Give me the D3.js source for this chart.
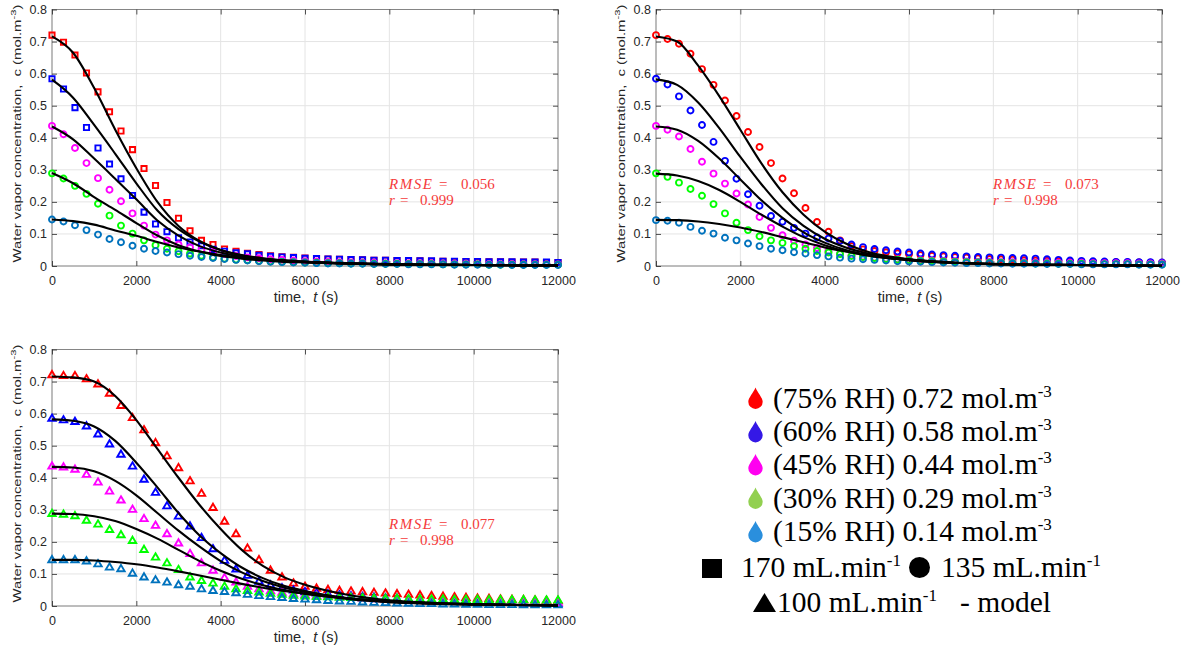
<!DOCTYPE html>
<html>
<head>
<meta charset="utf-8">
<script src="https://cdn.jsdelivr.net/npm/d3@7"></script>
<style>
  html, body { margin: 0; padding: 0; background: #fff; }
  svg { display: block; }
  .tick text { font-family: "Liberation Sans", Arial, sans-serif; font-size: 12.5px; fill: #262626; }
</style>
</head>
<body>
<svg id="chart" width="1186" height="653"></svg>
<script>
// Sampling times of the measured points (s)
const sampleTimes = [0,273,545,818,1091,1364,1636,1909,2182,2455,2727,3000,3273,3545,3818,4091,4364,4636,4909,5182,5455,5727,6000,6273,6545,6818,7091,7364,7636,7909,8182,8455,8727,9000,9273,9545,9818,10091,10364,10636,10909,11182,11455,11727,12000];
// Times at which the model curves are tabulated (s)
const modelTimes = [0,500,1000,1500,2000,2500,3000,3500,4000,4500,5000,5500,6000,7000,8000,9000,10000,11000,12000];

// Inlet humidity levels
const rhLabels = ["(75% RH) 0.72 mol.m", "(60% RH) 0.58 mol.m", "(45% RH) 0.44 mol.m", "(30% RH) 0.29 mol.m", "(15% RH) 0.14 mol.m"];
const seriesColors = ["#ff0000", "#0000ff", "#ff00ff", "#00ff00", "#0072bd"];
const dropColors = ["#ff0000", "#3418e6", "#ff00f0", "#92d050", "#2a8fdd"];

// Flow rate 170 mL/min
const f170_75 = [0.720,0.698,0.658,0.602,0.543,0.481,0.421,0.363,0.304,0.251,0.198,0.149,0.110,0.080,0.067,0.053,0.046,0.040,0.036,0.032,0.029,0.027,0.025,0.023,0.022,0.021,0.020,0.019,0.018,0.018,0.017,0.016,0.016,0.015,0.015,0.014,0.014,0.013,0.013,0.013,0.012,0.012,0.012,0.011,0.011];
const f170_60 = [0.584,0.552,0.494,0.432,0.368,0.318,0.272,0.220,0.168,0.131,0.107,0.088,0.075,0.063,0.052,0.046,0.041,0.038,0.033,0.030,0.028,0.026,0.024,0.023,0.022,0.021,0.020,0.019,0.018,0.018,0.017,0.017,0.016,0.016,0.015,0.015,0.014,0.014,0.013,0.013,0.013,0.012,0.012,0.012,0.011];
const f170_45 = [0.437,0.411,0.368,0.321,0.274,0.238,0.202,0.164,0.126,0.098,0.080,0.067,0.058,0.051,0.044,0.037,0.031,0.027,0.024,0.021,0.019,0.017,0.015,0.014,0.013,0.012,0.011,0.010,0.010,0.009,0.009,0.008,0.008,0.008,0.007,0.007,0.007,0.006,0.006,0.006,0.006,0.005,0.005,0.005,0.005];
const f170_30 = [0.289,0.273,0.250,0.225,0.194,0.157,0.126,0.101,0.080,0.065,0.054,0.046,0.039,0.032,0.027,0.023,0.020,0.018,0.016,0.014,0.013,0.012,0.011,0.010,0.009,0.009,0.008,0.008,0.007,0.007,0.007,0.006,0.006,0.006,0.005,0.005,0.005,0.005,0.004,0.004,0.004,0.004,0.004,0.004,0.004];
const f170_15 = [0.145,0.139,0.127,0.112,0.098,0.084,0.074,0.063,0.054,0.047,0.042,0.037,0.032,0.028,0.025,0.022,0.019,0.017,0.015,0.013,0.012,0.011,0.010,0.009,0.008,0.008,0.007,0.007,0.006,0.006,0.006,0.005,0.005,0.005,0.005,0.004,0.004,0.004,0.004,0.004,0.003,0.003,0.003,0.003,0.003];

// Flow rate 135 mL/min
const f135_75 = [0.720,0.708,0.693,0.662,0.614,0.565,0.516,0.468,0.418,0.371,0.321,0.273,0.227,0.181,0.137,0.107,0.080,0.062,0.052,0.047,0.043,0.040,0.037,0.034,0.032,0.030,0.028,0.026,0.024,0.022,0.021,0.020,0.018,0.017,0.016,0.015,0.014,0.013,0.013,0.012,0.012,0.011,0.011,0.010,0.010];
const f135_60 = [0.584,0.566,0.529,0.485,0.440,0.387,0.328,0.272,0.224,0.188,0.156,0.138,0.119,0.101,0.089,0.086,0.078,0.067,0.059,0.053,0.049,0.045,0.042,0.039,0.036,0.034,0.032,0.030,0.028,0.027,0.026,0.025,0.024,0.023,0.021,0.019,0.017,0.016,0.015,0.014,0.013,0.013,0.012,0.012,0.011];
const f135_45 = [0.437,0.425,0.404,0.365,0.325,0.288,0.257,0.226,0.192,0.153,0.119,0.096,0.079,0.067,0.056,0.047,0.039,0.033,0.029,0.026,0.023,0.021,0.019,0.018,0.017,0.016,0.015,0.014,0.013,0.013,0.012,0.012,0.011,0.011,0.011,0.010,0.010,0.010,0.009,0.009,0.009,0.009,0.008,0.008,0.008];
const f135_30 = [0.289,0.278,0.260,0.240,0.219,0.193,0.164,0.135,0.112,0.093,0.080,0.072,0.062,0.054,0.047,0.042,0.037,0.031,0.028,0.025,0.022,0.020,0.018,0.016,0.015,0.014,0.013,0.012,0.011,0.010,0.010,0.009,0.009,0.008,0.008,0.007,0.007,0.007,0.006,0.006,0.006,0.006,0.005,0.005,0.005];
const f135_15 = [0.143,0.141,0.135,0.122,0.110,0.101,0.088,0.080,0.070,0.062,0.054,0.049,0.043,0.039,0.034,0.030,0.026,0.023,0.021,0.019,0.017,0.015,0.014,0.013,0.012,0.011,0.010,0.009,0.009,0.008,0.008,0.007,0.007,0.007,0.006,0.006,0.006,0.005,0.005,0.005,0.005,0.005,0.004,0.004,0.004];

// Flow rate 100 mL/min
const f100_75 = [0.722,0.719,0.719,0.709,0.693,0.664,0.626,0.588,0.550,0.510,0.469,0.432,0.391,0.352,0.308,0.265,0.226,0.181,0.145,0.112,0.091,0.072,0.062,0.056,0.052,0.049,0.047,0.045,0.043,0.041,0.039,0.037,0.035,0.033,0.031,0.029,0.027,0.025,0.024,0.022,0.021,0.020,0.019,0.018,0.017];
const f100_60 = [0.586,0.581,0.576,0.562,0.537,0.506,0.474,0.437,0.396,0.355,0.313,0.281,0.250,0.214,0.179,0.143,0.116,0.096,0.078,0.066,0.057,0.050,0.045,0.041,0.038,0.035,0.032,0.030,0.028,0.026,0.024,0.022,0.020,0.018,0.017,0.016,0.015,0.014,0.013,0.012,0.011,0.010,0.010,0.009,0.009];
const f100_45 = [0.437,0.434,0.427,0.411,0.387,0.359,0.331,0.302,0.273,0.252,0.226,0.197,0.164,0.135,0.112,0.089,0.075,0.062,0.054,0.048,0.043,0.039,0.036,0.033,0.031,0.029,0.027,0.025,0.023,0.022,0.021,0.020,0.019,0.018,0.017,0.016,0.015,0.014,0.014,0.013,0.013,0.012,0.012,0.011,0.011];
const f100_30 = [0.289,0.287,0.282,0.268,0.256,0.239,0.223,0.205,0.177,0.153,0.135,0.114,0.091,0.080,0.072,0.062,0.054,0.049,0.044,0.040,0.037,0.034,0.032,0.030,0.029,0.028,0.027,0.026,0.025,0.024,0.024,0.023,0.023,0.022,0.022,0.021,0.021,0.021,0.020,0.020,0.020,0.020,0.019,0.019,0.019];
const f100_15 = [0.145,0.145,0.145,0.141,0.132,0.122,0.117,0.103,0.091,0.082,0.075,0.067,0.062,0.054,0.049,0.046,0.042,0.037,0.033,0.030,0.027,0.024,0.022,0.020,0.018,0.016,0.015,0.013,0.012,0.011,0.010,0.009,0.008,0.008,0.007,0.007,0.006,0.006,0.005,0.005,0.005,0.004,0.004,0.004,0.004];

// Model curves, 170 mL/min
const m170_75 = [0.716,0.665,0.555,0.425,0.305,0.200,0.125,0.078,0.050,0.033,0.023,0.017,0.013,0.008,0.005,0.004,0.003,0.002,0.002];
const m170_60 = [0.581,0.525,0.440,0.350,0.258,0.173,0.115,0.076,0.050,0.034,0.024,0.018,0.014,0.009,0.006,0.004,0.003,0.002,0.002];
const m170_45 = [0.435,0.395,0.335,0.272,0.208,0.142,0.095,0.062,0.042,0.029,0.021,0.016,0.012,0.008,0.005,0.004,0.003,0.002,0.002];
const m170_30 = [0.290,0.258,0.215,0.175,0.134,0.095,0.065,0.045,0.031,0.023,0.017,0.013,0.011,0.007,0.005,0.004,0.003,0.002,0.002];
const m170_15 = [0.145,0.140,0.129,0.111,0.094,0.075,0.058,0.045,0.034,0.026,0.020,0.016,0.013,0.008,0.005,0.004,0.003,0.002,0.002];

// Model curves, 135 mL/min
const m135_75 = [0.716,0.700,0.625,0.530,0.425,0.320,0.230,0.160,0.107,0.070,0.045,0.030,0.021,0.011,0.006,0.004,0.003,0.002,0.001];
const m135_60 = [0.582,0.565,0.510,0.430,0.340,0.255,0.180,0.125,0.085,0.058,0.040,0.028,0.020,0.010,0.006,0.004,0.003,0.002,0.001];
const m135_45 = [0.435,0.425,0.390,0.335,0.270,0.205,0.150,0.105,0.073,0.050,0.035,0.025,0.018,0.010,0.006,0.004,0.003,0.002,0.001];
const m135_30 = [0.288,0.282,0.265,0.237,0.200,0.160,0.123,0.090,0.065,0.046,0.033,0.024,0.018,0.010,0.006,0.004,0.003,0.002,0.001];
const m135_15 = [0.144,0.143,0.139,0.131,0.120,0.106,0.090,0.074,0.058,0.045,0.034,0.026,0.020,0.011,0.007,0.004,0.003,0.002,0.001];

// Model curves, 100 mL/min
const m100_75 = [0.716,0.713,0.700,0.655,0.580,0.490,0.400,0.315,0.240,0.175,0.125,0.090,0.066,0.035,0.018,0.010,0.006,0.003,0.002];
const m100_60 = [0.582,0.578,0.560,0.515,0.447,0.370,0.290,0.220,0.165,0.120,0.087,0.063,0.047,0.025,0.013,0.008,0.005,0.003,0.002];
const m100_45 = [0.434,0.432,0.420,0.390,0.345,0.290,0.235,0.185,0.140,0.105,0.078,0.058,0.044,0.024,0.013,0.008,0.005,0.003,0.002];
const m100_30 = [0.288,0.287,0.280,0.265,0.240,0.210,0.175,0.140,0.110,0.085,0.065,0.050,0.038,0.022,0.012,0.007,0.004,0.003,0.002];
const m100_15 = [0.144,0.144,0.142,0.137,0.130,0.120,0.108,0.095,0.082,0.069,0.057,0.047,0.038,0.024,0.015,0.009,0.006,0.004,0.002];

// Goodness-of-fit statistics per flow rate
const rmseValues = ["0.056", "0.073", "0.077"];
const rValues = ["0.999", "0.998", "0.998"];

const xTicks = [0, 2000, 4000, 6000, 8000, 10000, 12000];
const yTicks = [0, 0.1, 0.2, 0.3, 0.4, 0.5, 0.6, 0.7, 0.8];

const svg = d3.select("#chart");
svg.append("rect").attr("width", 1186).attr("height", 653).attr("fill", "#fff");

const plotW = 506, plotH = 256.5;

const panels = [
  { left: 52, top: 9.5, obs: [f170_75, f170_60, f170_45, f170_30, f170_15],
    fit: [m170_75, m170_60, m170_45, m170_30, m170_15],
    shapes: ["square", "square", "circle", "circle", "circle"], k: 0 },
  { left: 656, top: 9.5, obs: [f135_75, f135_60, f135_45, f135_30, f135_15],
    fit: [m135_75, m135_60, m135_45, m135_30, m135_15],
    shapes: ["circle", "circle", "circle", "circle", "circle"], k: 1 },
  { left: 52, top: 349.5, obs: [f100_75, f100_60, f100_45, f100_30, f100_15],
    fit: [m100_75, m100_60, m100_45, m100_30, m100_15],
    shapes: ["triangle", "triangle", "triangle", "triangle", "triangle"], k: 2 }
];

function markerPath(shape) {
  if (shape === "square") return "M-2.6,-2.6H2.6V2.6H-2.6Z";
  if (shape === "triangle") return "M0,-3.6L3.7,2.7H-3.7Z";
  return d3.arc()({ innerRadius: 0, outerRadius: 3.0, startAngle: 0, endAngle: 2 * Math.PI });
}

const sans = "'Liberation Sans', Arial, sans-serif";
const serif = "'Liberation Serif', 'Times New Roman', serif";

panels.forEach(p => {
  const x = d3.scaleLinear().domain([0, 12000]).range([0, plotW]);
  const y = d3.scaleLinear().domain([0, 0.8]).range([plotH, 0]);
  const g = svg.append("g").attr("transform", `translate(${p.left},${p.top})`);

  // grid
  const grid = g.append("g").attr("stroke", "#e4e4e4").attr("stroke-width", 1);
  xTicks.forEach(t => grid.append("line").attr("x1", x(t)).attr("x2", x(t)).attr("y1", 0).attr("y2", plotH));
  yTicks.forEach(v => grid.append("line").attr("x1", 0).attr("x2", plotW).attr("y1", y(v)).attr("y2", y(v)));

  // box
  g.append("rect").attr("width", plotW).attr("height", plotH)
    .attr("fill", "none").attr("stroke", "#6e6e6e").attr("stroke-width", 0.8);

  const styleAxis = sel => {
    sel.select(".domain").remove();
    sel.selectAll(".tick line").attr("stroke", "#262626").attr("stroke-width", 0.8);
  };

  g.append("g").attr("transform", `translate(0,${plotH})`)
    .call(d3.axisBottom(x).tickValues(xTicks).tickFormat(d3.format("d")).tickSize(-5).tickPadding(10))
    .call(styleAxis);
  g.append("g")
    .call(d3.axisTop(x).tickValues(xTicks).tickFormat("").tickSize(-5))
    .call(styleAxis);
  g.append("g")
    .call(d3.axisLeft(y).tickValues(yTicks).tickFormat(d => d === 0 ? "0" : d3.format(".1f")(d)).tickSize(-5).tickPadding(5))
    .call(styleAxis);
  g.append("g").attr("transform", `translate(${plotW},0)`)
    .call(d3.axisRight(y).tickValues(yTicks).tickFormat("").tickSize(-5))
    .call(styleAxis);

  // measured points
  p.obs.forEach((vals, i) => {
    g.append("g").selectAll("path")
      .data(vals.map((v, j) => [sampleTimes[j], v]))
      .join("path")
      .attr("d", markerPath(p.shapes[i]))
      .attr("transform", d => `translate(${x(d[0])},${y(d[1])})`)
      .attr("fill", "none")
      .attr("stroke", seriesColors[i])
      .attr("stroke-width", 1.9);
  });

  // model curves
  const line = d3.line().x(d => x(d[0])).y(d => y(d[1])).curve(d3.curveMonotoneX);
  p.fit.forEach(vals => {
    g.append("path")
      .datum(vals.map((v, j) => [modelTimes[j], v]))
      .attr("d", line)
      .attr("fill", "none")
      .attr("stroke", "#000")
      .attr("stroke-width", 2.1);
  });

  // fit statistics
  const sx = 337;
  const st = g.append("g").attr("fill", "#f53b3b").attr("font-family", serif).attr("font-size", 15);
  st.append("text").attr("x", sx).attr("y", 179.5).attr("font-style", "italic")
    .attr("letter-spacing", 1.5).text("RMSE");
  st.append("text").attr("x", sx + 50).attr("y", 179.5).text("=");
  st.append("text").attr("x", sx + 72).attr("y", 179.5).text(rmseValues[p.k]);
  st.append("text").attr("x", sx).attr("y", 195.5).attr("font-style", "italic").text("r");
  st.append("text").attr("x", sx + 11).attr("y", 195.5).text("=");
  st.append("text").attr("x", sx + 31).attr("y", 195.5).text(rValues[p.k]);

  // axis titles
  const xl = g.append("text").attr("x", 254).attr("y", plotH + 35.5)
    .attr("text-anchor", "middle").attr("fill", "#262626")
    .attr("font-family", sans).attr("font-size", 14.5).attr("xml:space", "preserve");
  xl.append("tspan").text("time,  ");
  xl.append("tspan").attr("font-style", "italic").text("t");
  xl.append("tspan").text(" (s)");

  const yl = g.append("text")
    .attr("text-anchor", "middle").attr("fill", "#262626")
    .attr("font-family", sans).attr("font-size", 10.5).attr("xml:space", "preserve");
  yl.append("tspan").text("Water vapor concentration,  c (mol.m");
  yl.append("tspan").attr("font-size", 8).attr("dy", -5).text("-3");
  yl.append("tspan").attr("dy", 5).text(")");
  const len = yl.node().getComputedTextLength();
  const stretch = 258 / len;
  yl.attr("transform", `translate(-31,124) rotate(-90) scale(${stretch},1)`);
});

// legend
const leg = svg.append("g").attr("font-family", serif).attr("font-size", 29.5).attr("fill", "#000");
const dropPath = "M0,-19 C2,-14 7.2,-8.5 7.2,-4.8 A7.2,7.2 0 0 1 -7.2,-4.8 C-7.2,-8.5 -2,-14 0,-19 Z";
const rowBase = [407.5, 441, 474, 507.5, 541];
rhLabels.forEach((lab, i) => {
  leg.append("path").attr("d", dropPath).attr("fill", dropColors[i])
    .attr("transform", `translate(755.5,${rowBase[i] - 1})`);
  const t = leg.append("text").attr("x", 773).attr("y", rowBase[i]);
  t.append("tspan").text(lab);
  t.append("tspan").attr("font-size", 17).attr("dy", -11).text("-3");
});

const flowRow = 576.5;
leg.append("rect").attr("x", 702).attr("y", 559).attr("width", 20).attr("height", 19).attr("fill", "#000");
const f1 = leg.append("text").attr("x", 741).attr("y", flowRow);
f1.append("tspan").text("170 mL.min");
f1.append("tspan").attr("font-size", 17).attr("dy", -11).text("-1");
leg.append("circle").attr("cx", 919.5).attr("cy", 567.5).attr("r", 10.5).attr("fill", "#000");
const f2 = leg.append("text").attr("x", 941).attr("y", flowRow);
f2.append("tspan").text("135 mL.min");
f2.append("tspan").attr("font-size", 17).attr("dy", -11).text("-1");

const lastRow = 611.5;
leg.append("path").attr("d", "M753,612 L764.5,593 L776,612 Z").attr("fill", "#000");
const f3 = leg.append("text").attr("x", 777).attr("y", lastRow);
f3.append("tspan").text("100 mL.min");
f3.append("tspan").attr("font-size", 17).attr("dy", -11).text("-1");
leg.append("text").attr("x", 960).attr("y", lastRow).text("- model");
</script>
</body>
</html>
